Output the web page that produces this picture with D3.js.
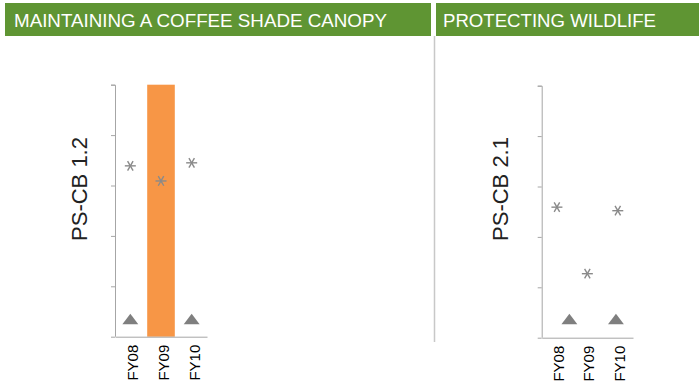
<!DOCTYPE html>
<html>
<head>
<meta charset="utf-8">
<script src="https://cdn.jsdelivr.net/npm/d3@7"></script>
<style>
  html, body { margin: 0; padding: 0; background: #ffffff; }
  svg { display: block; font-family: "Liberation Sans", Arial, Helvetica, sans-serif; }
</style>
</head>
<body>
<svg id="chart" width="699" height="383"></svg>
<script>
// ---- Data ----
const categories = ["FY08", "FY09", "FY10"];
const sectionTitles = ["MAINTAINING A COFFEE SHADE CANOPY", "PROTECTING WILDLIFE"];
const axisTitles = ["PS-CB 1.2", "PS-CB 2.1"];
const yTicks = [0, 20, 40, 60, 80, 100];

// Panel 1 (PS-CB 1.2)
const bar1 = [null, 100, null];
const stars1 = [67.8, 61.8, 69.0];
const triangles1 = [6.3, null, 6.3];
const trianglePos1 = [0, null, 2];

// Panel 2 (PS-CB 2.1)
const bar2 = [null, null, null];
const stars2 = [51.8, 25.4, 50.4];
const triangles2 = [6.7, null, 6.7];
const trianglePos2 = [0.41, null, 1.94];

// ---- Drawing ----
const svg = d3.select("#chart");
const green = "#5f9533";
const orange = "#f79646";
const markGray = "#7f7f7f";
const starGray = "#8a8a8a";
const axisGray = "#a6a6a6";

// header bands
const headers = [
  { x0: 5, x1: 431, tx: 14, text: sectionTitles[0], len: 373 },
  { x0: 436, x1: 699, tx: 443, text: sectionTitles[1], len: 213 }
];
headers.forEach(h => {
  svg.append("rect").attr("x", h.x0).attr("y", 3).attr("width", h.x1 - h.x0).attr("height", 33)
    .attr("fill", green);
  svg.append("text").attr("x", h.tx).attr("y", 26.5)
    .attr("fill", "#ffffff").attr("font-size", 18)
    .attr("textLength", h.len).attr("lengthAdjust", "spacingAndGlyphs")
    .text(h.text);
});

// separator
svg.append("line").attr("x1", 434.5).attr("x2", 434.5).attr("y1", 36).attr("y2", 342)
  .attr("stroke", "#c8c8c8").attr("stroke-width", 1.5);

function panel(cfg) {
  const x = d3.scaleBand().domain(categories).range([cfg.left, cfg.right])
    .paddingInner(0.1).paddingOuter(0.05);
  const xi = d3.scaleLinear().domain([0, 2]).range([x(categories[0]) + x.bandwidth() / 2, x(categories[2]) + x.bandwidth() / 2]);
  const y = d3.scaleLinear().domain([0, 100]).range([cfg.bottom, cfg.top]);
  const g = svg.append("g");

  // bars
  g.selectAll("rect.bar").data(categories.map((c, i) => ({ c, v: cfg.bars[i] })).filter(d => d.v != null))
    .join("rect").attr("class", "bar")
    .attr("x", d => x(d.c)).attr("width", x.bandwidth())
    .attr("y", d => y(d.v)).attr("height", d => y(0) - y(d.v))
    .attr("fill", orange);

  // y axis
  const ya = g.append("g").attr("transform", `translate(${cfg.left},0)`)
    .call(d3.axisLeft(y).tickValues(yTicks).tickSize(4).tickFormat(""));
  ya.select(".domain").attr("stroke", axisGray).attr("d", `M-4,${y(100) + 0.5}H0.5V${y(0)}`);
  ya.selectAll(".tick line").attr("stroke", axisGray);

  // x axis
  const xa = g.append("g").attr("transform", `translate(0,${cfg.bottom})`)
    .call(d3.axisBottom(x).tickSize(0).tickPadding(0));
  xa.select(".domain").attr("stroke", axisGray);
  xa.selectAll(".tick text")
    .attr("transform", "rotate(-90)")
    .attr("text-anchor", "end")
    .attr("x", -8).attr("y", 0).attr("dy", cfg.labelDy)
    .attr("font-size", 15).attr("fill", "#000");

  // stars (asterisks)
  const starR = 5.5;
  const star = g.selectAll("g.star").data(categories.map((c, i) => ({ c, v: cfg.stars[i] })).filter(d => d.v != null))
    .join("g").attr("class", "star")
    .attr("transform", d => `translate(${x(d.c) + x.bandwidth() / 2},${y(d.v)})`);
  [0, 60, 120].forEach(a => {
    const r = a * Math.PI / 180;
    star.append("line")
      .attr("x1", -starR * Math.cos(r)).attr("y1", -starR * Math.sin(r))
      .attr("x2", starR * Math.cos(r)).attr("y2", starR * Math.sin(r))
      .attr("stroke", starGray).attr("stroke-width", 1.4);
  });

  // triangles
  const tri = d3.symbol().type(d3.symbolTriangle).size(70);
  g.selectAll("path.tri").data(cfg.tris.map((v, i) => ({ v, p: cfg.triPos[i] })).filter(d => d.v != null))
    .join("path").attr("class", "tri")
    .attr("d", tri)
    .attr("transform", d => `translate(${xi(d.p)},${y(d.v)}) scale(1.25,0.95)`)
    .attr("fill", markGray);

  // axis title
  svg.append("text")
    .attr("transform", `translate(${cfg.titleX},${cfg.titleY}) rotate(-90)`)
    .attr("text-anchor", "middle").attr("font-size", 22).attr("fill", "#222")
    .text(cfg.title);
}

panel({ left: 115, right: 207, top: 84.7, bottom: 336.7, bars: bar1, stars: stars1,
  tris: triangles1, triPos: trianglePos1, title: axisTitles[0], titleX: 87, titleY: 189, labelDy: "0.53em" });
panel({ left: 541.7, right: 633, top: 85.7, bottom: 337.7, bars: bar2, stars: stars2,
  tris: triangles2, triPos: trianglePos2, title: axisTitles[1], titleX: 508, titleY: 189, labelDy: "0.45em" });
</script>
</body>
</html>
